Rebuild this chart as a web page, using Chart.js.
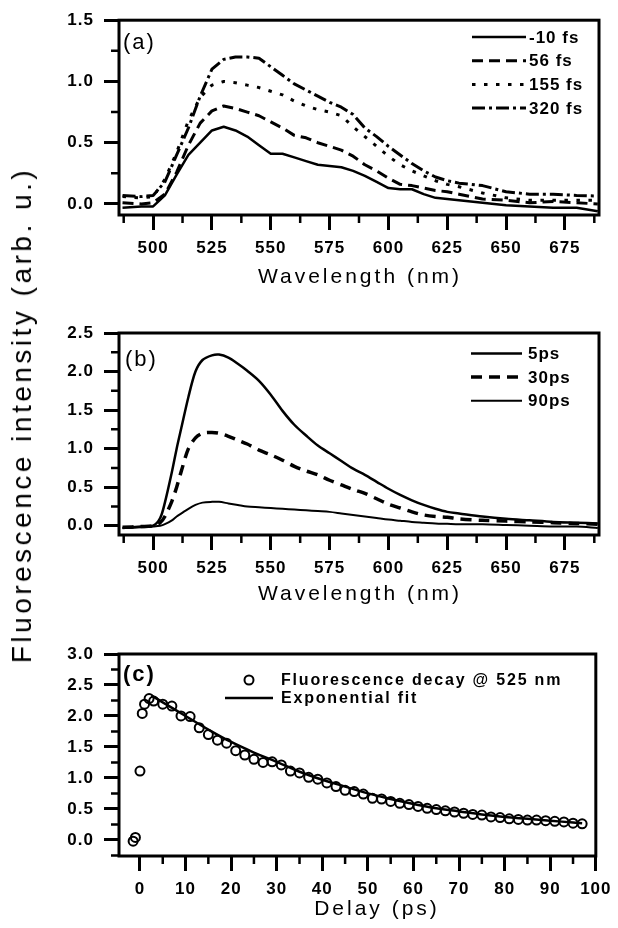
<!DOCTYPE html>
<html>
<head>
<meta charset="utf-8">
<script src="https://cdn.jsdelivr.net/npm/chart.js@4.4.1/dist/chart.umd.min.js"></script>
<style>
  html, body { margin: 0; padding: 0; background: #fff; }
  #wrap { position: relative; width: 618px; height: 928px; overflow: hidden; }
  canvas { position: absolute; left: 0; }
  #ytitle {
    position: absolute; left: 22px; top: 415px;
    transform: translate(-50%, -50%) rotate(-90deg);
    font: 28px "Liberation Sans", Arial, sans-serif;
    letter-spacing: 3.5px; white-space: nowrap; color: #000;
  }
</style>
</head>
<body>
<div id="wrap">
  <canvas id="chartA" width="618" height="290" style="top:0"></canvas>
  <canvas id="chartB" width="618" height="320" style="top:290px"></canvas>
  <canvas id="chartC" width="618" height="318" style="top:610px"></canvas>
  <div id="ytitle">Fluorescence intensity (arb. u.)</div>
</div>
<script>
// ---- panel (a): early-time spectra
const wavelengthsA = [487, 495, 500, 505, 510, 515, 520, 525, 530, 535, 540, 545, 550, 555, 560, 565, 570, 575, 580, 585, 590, 595, 600, 605, 610, 615, 620, 625, 630, 640, 650, 660, 670, 680, 689];
const fsMinus10 = [-0.03, -0.02, -0.02, 0.07, 0.24, 0.40, 0.50, 0.60, 0.63, 0.60, 0.55, 0.48, 0.41, 0.41, 0.38, 0.35, 0.32, 0.31, 0.30, 0.27, 0.23, 0.18, 0.13, 0.12, 0.12, 0.08, 0.05, 0.04, 0.03, 0.01, -0.01, -0.02, -0.03, -0.03, -0.06];
const fs56 = [0.01, 0.0, 0.01, 0.08, 0.26, 0.48, 0.66, 0.76, 0.80, 0.78, 0.75, 0.72, 0.67, 0.62, 0.56, 0.54, 0.50, 0.47, 0.44, 0.39, 0.32, 0.27, 0.21, 0.16, 0.15, 0.13, 0.11, 0.10, 0.08, 0.04, 0.03, 0.01, 0.02, 0.01, 0.0];
const fs155 = [0.06, 0.05, 0.06, 0.20, 0.42, 0.68, 0.87, 0.97, 1.00, 0.99, 0.97, 0.95, 0.92, 0.89, 0.84, 0.80, 0.77, 0.75, 0.72, 0.63, 0.55, 0.47, 0.39, 0.32, 0.27, 0.23, 0.19, 0.16, 0.14, 0.09, 0.05, 0.03, 0.03, 0.03, 0.03];
const fs320 = [0.07, 0.06, 0.07, 0.18, 0.40, 0.62, 0.88, 1.10, 1.18, 1.20, 1.20, 1.19, 1.12, 1.05, 0.98, 0.93, 0.88, 0.83, 0.79, 0.73, 0.62, 0.55, 0.47, 0.40, 0.33, 0.27, 0.22, 0.19, 0.17, 0.15, 0.10, 0.08, 0.08, 0.07, 0.065];

// ---- panel (b): later spectra
const wavelengthsB = [487, 495, 500, 503, 505, 508, 510, 512, 515, 518, 521, 525, 528, 532, 536, 540, 545, 550, 555, 560, 565, 570, 575, 580, 585, 590, 595, 600, 605, 610, 615, 620, 625, 630, 640, 650, 660, 670, 680, 689];
const ps5 = [-0.03, -0.01, 0.0, 0.1, 0.3, 0.7, 1.0, 1.27, 1.67, 2.0, 2.15, 2.21, 2.22, 2.18, 2.1, 2.01, 1.88, 1.70, 1.49, 1.31, 1.17, 1.04, 0.94, 0.84, 0.74, 0.66, 0.57, 0.48, 0.40, 0.33, 0.27, 0.22, 0.18, 0.16, 0.12, 0.09, 0.07, 0.05, 0.04, 0.03];
const ps30 = [-0.02, -0.01, 0.0, 0.04, 0.12, 0.32, 0.5, 0.71, 1.0, 1.14, 1.2, 1.21, 1.2, 1.16, 1.11, 1.06, 0.98, 0.92, 0.85, 0.77, 0.71, 0.66, 0.59, 0.53, 0.47, 0.42, 0.35, 0.28, 0.23, 0.18, 0.14, 0.12, 0.11, 0.09, 0.07, 0.06, 0.05, 0.04, 0.03, 0.02];
const ps90 = [-0.03, -0.02, -0.01, 0.0, 0.02, 0.07, 0.12, 0.16, 0.22, 0.27, 0.3, 0.31, 0.31, 0.29, 0.27, 0.25, 0.24, 0.23, 0.22, 0.21, 0.2, 0.19, 0.18, 0.16, 0.14, 0.12, 0.10, 0.08, 0.065, 0.05, 0.04, 0.03, 0.025, 0.02, 0.02, 0.01, 0.0, -0.01, -0.01, -0.03];

// ---- panel (c): decay at 525 nm
const delays = [-1.5, -1, 0, 0.5, 1, 2, 3, 5, 7, 9, 11, 13, 15, 17, 19, 21, 23, 25, 27, 29, 31, 33, 35, 37, 39, 41, 43, 45, 47, 49, 51, 53, 55, 57, 59, 61, 63, 65, 67, 69, 71, 73, 75, 77, 79, 81, 83, 85, 87, 89, 91, 93, 95, 97];
const decay = [-0.02, 0.04, 1.11, 2.04, 2.19, 2.28, 2.24, 2.19, 2.16, 2.0, 1.99, 1.81, 1.70, 1.61, 1.56, 1.44, 1.37, 1.30, 1.25, 1.26, 1.21, 1.11, 1.08, 1.01, 0.98, 0.92, 0.86, 0.80, 0.78, 0.74, 0.67, 0.66, 0.62, 0.59, 0.57, 0.54, 0.51, 0.49, 0.47, 0.45, 0.43, 0.41, 0.40, 0.37, 0.36, 0.34, 0.33, 0.32, 0.32, 0.31, 0.30, 0.29, 0.27, 0.26];
const fitDelays = [2.5, 5, 10, 15, 20, 25, 30, 35, 40, 45, 50, 55, 60, 65, 70, 75, 80, 85, 90, 95, 97];
const fitVals = [2.33, 2.22, 2.0, 1.78, 1.58, 1.41, 1.26, 1.10, 0.97, 0.86, 0.75, 0.66, 0.58, 0.51, 0.46, 0.41, 0.37, 0.34, 0.31, 0.28, 0.27];

// ---- ticks
const wlTicks = [500, 525, 550, 575, 600, 625, 650, 675];
const wlMinor = [487.5, 512.5, 537.5, 562.5, 587.5, 612.5, 637.5, 662.5, 687.5];
const yTicksA = [0, 0.5, 1.0, 1.5];
const yMinorA = [0.25, 0.75, 1.25];
const yTicksB = [0, 0.5, 1.0, 1.5, 2.0, 2.5];
const yMinorB = [0.25, 0.75, 1.25, 1.75, 2.25];
const yTicksC = [0, 0.5, 1.0, 1.5, 2.0, 2.5, 3.0];
const yMinorC = [-0.25, 0.25, 0.75, 1.25, 1.75, 2.25, 2.75];
const delayTicks = [0, 10, 20, 30, 40, 50, 60, 70, 80, 90, 100];
const delayMinor = [5, 15, 25, 35, 45, 55, 65, 75, 85, 95];

const FONT = '"Liberation Sans", Arial, Helvetica, sans-serif';
const pts = (xs, ys) => xs.map((x, i) => ({ x: x, y: ys[i] }));

const panelPlugin = {
  id: 'panel',
  beforeDraw(chart) {
    chart.ctx.letterSpacing = '1px';
  },
  afterDraw(chart, args, o) {
    const { ctx, chartArea: a, scales } = chart;
    ctx.save();
    ctx.strokeStyle = '#000';
    ctx.fillStyle = '#000';
    ctx.setLineDash([]);
    ctx.lineWidth = 3;
    ctx.strokeRect(a.left, a.top, a.right - a.left, a.bottom - a.top);

    // minor ticks
    ctx.lineWidth = 2.5;
    ctx.beginPath();
    o.minorX.forEach(v => {
      if (v < scales.x.min || v > scales.x.max) return;
      const px = scales.x.getPixelForValue(v);
      ctx.moveTo(px, a.bottom);
      ctx.lineTo(px, a.bottom + 8);
    });
    o.minorY.forEach(v => {
      if (v < scales.y.min || v > scales.y.max) return;
      const py = scales.y.getPixelForValue(v);
      ctx.moveTo(a.left, py);
      ctx.lineTo(a.left - 8, py);
    });
    ctx.stroke();

    // axis title
    ctx.font = '21px ' + FONT;
    ctx.letterSpacing = '3px';
    ctx.textAlign = 'center';
    ctx.textBaseline = 'alphabetic';
    ctx.fillText(o.title, o.titleX, o.titleY);

    // panel tag
    ctx.font = o.tagFont + ' 22px ' + FONT;
    ctx.letterSpacing = '2px';
    ctx.textAlign = 'left';
    ctx.textBaseline = 'middle';
    ctx.fillText(o.tag, o.tagX, o.tagY);

    // legend
    ctx.font = 'bold ' + o.legFont + 'px ' + FONT;
    ctx.letterSpacing = o.legSpacing + 'px';
    chart.data.datasets.forEach((ds, i) => {
      const y = o.legY + i * o.legRow;
      ctx.beginPath();
      if (ds.showLine === false) {
        ctx.setLineDash([]);
        ctx.lineWidth = ds.pointBorderWidth;
        ctx.arc((o.legX0 + o.legX1) / 2, y, ds.pointRadius, 0, Math.PI * 2);
      } else {
        ctx.setLineDash(ds.borderDash || []);
        ctx.lineWidth = ds.borderWidth;
        ctx.moveTo(o.legX0, y);
        ctx.lineTo(o.legX1, y);
      }
      ctx.stroke();
      ctx.fillText(ds.label, o.legText, y + 1);
    });
    ctx.restore();
  }
};

function axis(min, max, major, decimals, size, isX) {
  return {
    type: 'linear',
    min: min,
    max: max,
    afterBuildTicks: s => { s.ticks = major.map(v => ({ value: v })); },
    afterFit: s => { if (isX) s.height = size; else s.width = size; },
    border: { display: false },
    grid: { drawOnChartArea: false, drawTicks: true, tickLength: 15, tickWidth: 3, tickColor: '#000' },
    ticks: {
      autoSkip: false, maxRotation: 0, color: '#000',
      padding: isX ? 8 : 10,
      font: { family: FONT, size: 17, weight: 'bold' },
      callback: v => Number(v).toFixed(decimals)
    }
  };
}

function buildChart(id, padTop, datasets, scales, panel) {
  return new Chart(document.getElementById(id), {
    type: 'line',
    data: { datasets: datasets },
    options: {
      responsive: false,
      animation: false,
      devicePixelRatio: 1,
      events: [],
      layout: { padding: { top: padTop, right: 19, left: 0, bottom: 0 } },
      elements: {
        point: { radius: 0 },
        line: { tension: 0, borderColor: '#000', borderJoinStyle: 'round', fill: false }
      },
      plugins: { legend: { display: false }, tooltip: { enabled: false }, panel: panel },
      scales: scales
    },
    plugins: [panelPlugin]
  });
}

const line = (label, xs, ys, width, dash, tension) => ({
  label: label, data: pts(xs, ys), borderColor: '#000', borderWidth: width,
  borderDash: dash, tension: tension || 0, pointRadius: 0
});

// (a)
buildChart('chartA', 19, [
  line('-10 fs', wavelengthsA, fsMinus10, 2.5, []),
  line('56 fs', wavelengthsA, fs56, 3, [11, 6]),
  line('155 fs', wavelengthsA, fs155, 3, [3.5, 8.5]),
  line('320 fs', wavelengthsA, fs320, 3, [13, 4, 3, 4])
], {
  x: axis(485.5, 689.5, wlTicks, 0, 75, true),
  y: axis(-0.09, 1.5, yTicksA, 1, 119, false)
}, {
  minorX: wlMinor, minorY: yMinorA,
  title: 'Wavelength (nm)', titleX: 360, titleY: 283,
  tag: '(a)', tagFont: 'normal', tagX: 123, tagY: 43,
  legX0: 472, legX1: 526, legText: 529, legY: 37, legRow: 23.7, legFont: 17, legSpacing: 1
});

// (b)
buildChart('chartB', 43, [
  line('5ps', wavelengthsB, ps5, 2.5, [], 0.3),
  line('30ps', wavelengthsB, ps30, 3.5, [11, 7], 0.3),
  line('90ps', wavelengthsB, ps90, 2, [], 0.3)
], {
  x: axis(485.5, 689.5, wlTicks, 0, 75, true),
  y: axis(-0.12, 2.5, yTicksB, 1, 119, false)
}, {
  minorX: wlMinor, minorY: yMinorB,
  title: 'Wavelength (nm)', titleX: 360, titleY: 310,
  tag: '(b)', tagFont: 'normal', tagX: 125, tagY: 70,
  legX0: 471, legX1: 522, legText: 528, legY: 63.5, legRow: 23.6, legFont: 17, legSpacing: 1
});

// (c)
buildChart('chartC', 44, [
  {
    label: 'Fluorescence decay @ 525 nm', data: pts(delays, decay), showLine: false,
    pointStyle: 'circle', pointRadius: 4.5, pointBorderWidth: 2,
    pointBorderColor: '#000', pointBackgroundColor: 'rgba(0,0,0,0)'
  },
  line('Exponential fit', fitDelays, fitVals, 2.5, [], 0.4)
], {
  x: axis(-4.6, 100, delayTicks, 0, 72, true),
  y: axis(-0.26, 3.0, yTicksC, 1, 119, false)
}, {
  minorX: delayMinor, minorY: yMinorC,
  title: 'Delay (ps)', titleX: 377, titleY: 305,
  tag: '(c)', tagFont: 'bold', tagX: 123, tagY: 65,
  legX0: 225, legX1: 273, legText: 281, legY: 70, legRow: 18, legFont: 16, legSpacing: 1.8
});
</script>
</body>
</html>
